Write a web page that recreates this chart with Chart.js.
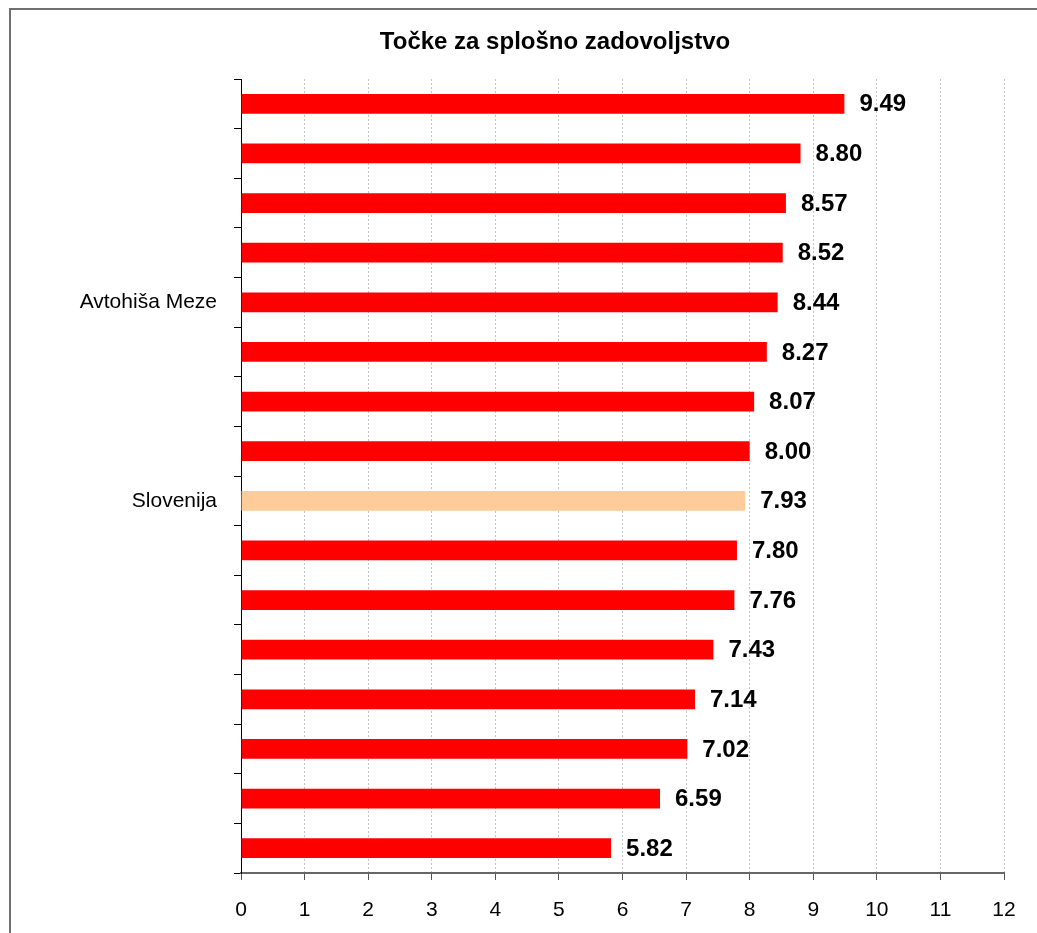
<!DOCTYPE html>
<html>
<head>
<meta charset="utf-8">
<script src="https://cdn.jsdelivr.net/npm/chart.js@4/dist/chart.umd.min.js"></script>
<style>
  body { margin: 0; background: #fff; }
  #wrap { position: relative; width: 1037px; height: 933px; overflow: hidden; }
  #frame { position: absolute; left: 9px; top: 8px; width: 1100px; height: 1000px; border: 2px solid #707070; }
  canvas { position: absolute; left: 0; top: 0; }
</style>
</head>
<body>
<div id="wrap">
  <div id="frame"></div>
  <canvas id="chart" width="1037" height="933"></canvas>
</div>
<script>
const chartTitle = 'Točke za splošno zadovoljstvo';
const labels = ['', '', '', '', 'Avtohiša Meze', '', '', '', 'Slovenija', '', '', '', '', '', '', ''];
const scores = [9.49, 8.80, 8.57, 8.52, 8.44, 8.27, 8.07, 8.00, 7.93, 7.80, 7.76, 7.43, 7.14, 7.02, 6.59, 5.82];
const xTicks = [0, 1, 2, 3, 4, 5, 6, 7, 8, 9, 10, 11, 12];

const colors = labels.map(l => l === 'Slovenija' ? '#FFCC99' : '#FF0000');

// value labels next to the bars
const valueLabels = {
  id: 'valueLabels',
  afterDatasetsDraw(chart) {
    const ctx = chart.ctx;
    const meta = chart.getDatasetMeta(0);
    ctx.save();
    ctx.font = 'bold 24px "Liberation Sans", Arial, sans-serif';
    ctx.fillStyle = '#000';
    ctx.textAlign = 'left';
    ctx.textBaseline = 'middle';
    meta.data.forEach((bar, i) => {
      ctx.fillText(scores[i].toFixed(2), bar.x + 15, bar.y + 1);
    });
    ctx.restore();
  }
};

// title drawn by hand so it can sit where the original has it
const titlePlugin = {
  id: 'titlePlugin',
  afterDraw(chart) {
    const ctx = chart.ctx;
    ctx.save();
    ctx.font = 'bold 24px "Liberation Sans", Arial, sans-serif';
    ctx.fillStyle = '#000';
    ctx.textAlign = 'center';
    ctx.textBaseline = 'middle';
    ctx.fillText(chartTitle, 555, 42);
    ctx.restore();
  }
};

new Chart(document.getElementById('chart').getContext('2d'), {
  type: 'bar',
  data: {
    labels,
    datasets: [{
      data: scores,
      backgroundColor: colors,
      borderWidth: 0,
      barPercentage: 0.4,
      categoryPercentage: 1
    }]
  },
  options: {
    indexAxis: 'y',
    responsive: false,
    animation: false,
    layout: { padding: { top: 79, right: 33, left: 0, bottom: 0 } },
    plugins: {
      legend: { display: false },
      tooltip: { enabled: false },
      title: { display: false }
    },
    scales: {
      x: {
        min: xTicks[0],
        max: xTicks[xTicks.length - 1],
        afterBuildTicks: (scale) => { scale.ticks = xTicks.map(v => ({ value: v })); },
        afterFit: (scale) => { scale.height = 60; },
        ticks: {
          color: '#000',
          padding: 18,
          font: { family: '"Liberation Sans", Arial, sans-serif', size: 21 }
        },
        grid: {
          color: '#c4c4c4',
          lineWidth: 1,
          tickColor: '#555',
          tickLength: 7,
          tickBorderDash: []
        },
        border: { color: '#666', width: 2, dash: [2, 2] }
      },
      y: {
        afterFit: (scale) => { scale.width = 241; },
        ticks: {
          color: '#000',
          padding: 17,
          autoSkip: false,
          font: { family: '"Liberation Sans", Arial, sans-serif', size: 21 }
        },
        grid: {
          drawOnChartArea: false,
          tickColor: '#000',
          tickLength: 7
        },
        border: { color: '#000', width: 1 }
      }
    }
  },
  plugins: [valueLabels, titlePlugin]
});
</script>
</body>
</html>
